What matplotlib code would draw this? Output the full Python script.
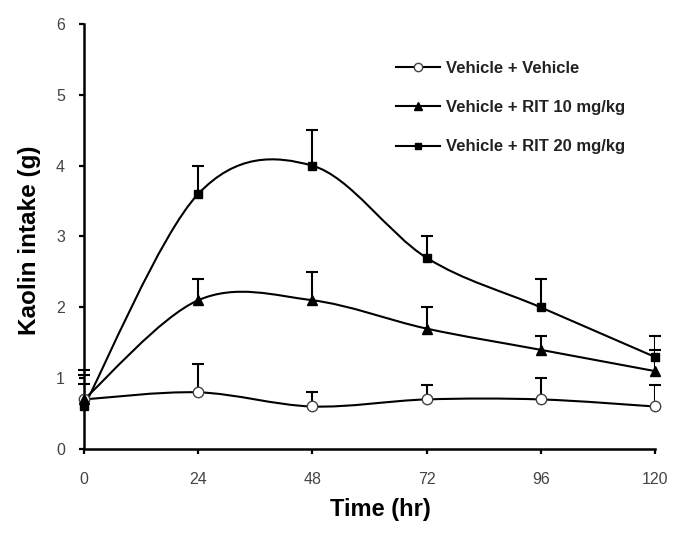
import numpy as np
import matplotlib
matplotlib.use("Agg")
import matplotlib.pyplot as plt
from matplotlib.path import Path
from matplotlib.patches import PathPatch
from matplotlib.lines import Line2D

plt.rcParams['font.family'] = ['Liberation Sans', 'DejaVu Sans']

time_hr = [0, 24, 48, 72, 96, 120]
veh_veh = [0.7, 0.8, 0.6, 0.7, 0.7, 0.6]
veh_veh_err = [0.22, 0.4, 0.2, 0.2, 0.3, 0.3]
rit10 = [0.7, 2.1, 2.1, 1.7, 1.4, 1.1]
rit10_err = [0.34, 0.3, 0.4, 0.3, 0.2, 0.3]
rit20 = [0.6, 3.6, 4.0, 2.7, 2.0, 1.3]
rit20_err = [0.52, 0.4, 0.5, 0.3, 0.4, 0.3]
labels = ["Vehicle + Vehicle", "Vehicle + RIT 10 mg/kg", "Vehicle + RIT 20 mg/kg"]
xticks = [0, 24, 48, 72, 96, 120]
yticks = [0, 1, 2, 3, 4, 5, 6]

fig = plt.figure(figsize=(6.85, 5.33), dpi=100)
ax = fig.add_axes([0.1226, 0.1576, 0.956 - 0.1226, 0.955 - 0.1576])


def smooth_path(x, y):
    pts = np.column_stack([x, y]).astype(float)
    n = len(pts)
    verts = [pts[0]]
    codes = [Path.MOVETO]
    for i in range(n - 1):
        p0 = pts[max(i - 1, 0)]
        p1 = pts[i]
        p2 = pts[i + 1]
        p3 = pts[min(i + 2, n - 1)]
        c1 = p1 + (p2 - p0) / 6.0
        c2 = p2 - (p3 - p1) / 6.0
        verts += [c1, c2, p2]
        codes += [Path.CURVE4] * 3
    return Path(verts, codes)


series = [
    (veh_veh, veh_veh_err, dict(marker='o', markersize=7.5, markerfacecolor='white',
                                markeredgecolor='#444444', markeredgewidth=1.0)),
    (rit10, rit10_err, dict(marker='^', markersize=7.5, markerfacecolor='black',
                            markeredgecolor='black')),
    (rit20, rit20_err, dict(marker='s', markersize=6, markerfacecolor='black',
                            markeredgecolor='black')),
]

lw = 1.5
handles = []
for (vals, err, mk), lab in zip(series, labels):
    patch = PathPatch(smooth_path(time_hr, vals), facecolor='none', edgecolor='black',
                      lw=lw, zorder=2)
    ax.add_patch(patch)
    tops = np.array(vals) + np.array(err)
    ax.vlines(time_hr, vals, tops, color='black', lw=lw, zorder=1)
    ax.plot(time_hr, tops, linestyle='none', marker='_', markersize=8,
            markeredgewidth=lw, color='black', zorder=1, clip_on=False)
    ax.plot(time_hr, vals, linestyle='none', zorder=3, clip_on=False, **mk)
    hmk = dict(mk)
    hmk['markersize'] = mk['markersize'] * 0.8
    handles.append(Line2D([], [], color='black', lw=lw, **hmk))

ax.set_xlim(0, 120)
ax.set_ylim(0, 6)
ax.set_xticks(xticks)
ax.set_yticks(yticks)
ax.tick_params(axis='both', direction='out', length=3.6, width=1.6, labelsize=11.5,
               labelcolor='#444444')
ax.tick_params(axis='x', pad=13)
ax.tick_params(axis='y', pad=10)
for s in ['top', 'right']:
    ax.spines[s].set_visible(False)
for s in ['left', 'bottom']:
    ax.spines[s].set_linewidth(1.8)

ax.set_xlabel("Time (hr)", fontsize=17, fontweight='bold')
ax.xaxis.set_label_coords(0.52, -0.115)
ax.set_ylabel("Kaolin intake (g)", fontsize=17.5, fontweight='bold')
ax.yaxis.set_label_coords(-0.075, 0.49)

leg = ax.legend(handles, labels, loc='upper left', bbox_to_anchor=(0.521, 0.948),
                frameon=False, handlelength=2.6, labelspacing=1.45,
                prop=dict(size=12, weight='bold'), handletextpad=0.35)
for t in leg.get_texts():
    t.set_color('#222222')

fig.savefig("out.png", dpi=100)
